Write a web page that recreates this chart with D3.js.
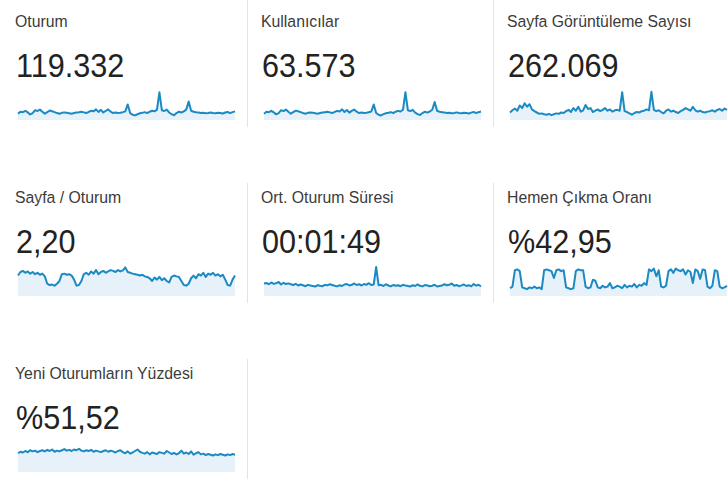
<!DOCTYPE html>
<html>
<head>
<meta charset="utf-8">
<script src="https://cdn.jsdelivr.net/npm/d3@7"></script>
<style>
  html, body { margin: 0; padding: 0; background: #fff; }
  svg { display: block; font-family: Arial, "Liberation Sans", sans-serif; }
</style>
</head>
<body>
<svg id="chart"></svg>
<script>
// metric names and totals
const metricTitles = ['Oturum', 'Kullanıcılar', 'Sayfa Görüntüleme Sayısı',
  'Sayfa / Oturum', 'Ort. Oturum Süresi', 'Hemen Çıkma Oranı',
  'Yeni Oturumların Yüzdesi'];
const metricTotals = ['119.332', '63.573', '262.069', '2,20', '00:01:49', '%42,95', '%51,52'];

// daily values (estimated from the sparklines)
const sessions = [1250, 1420, 1380, 1500, 1360, 1180, 1300, 1550, 1480, 1600,
  1420, 1250, 1380, 1520, 1460, 1380, 1300, 1240, 1320, 1360,
  1330, 1290, 1250, 1300, 1350, 1380, 1420, 1360, 1300, 1400,
  1500, 1450, 1620, 1400, 1580, 1350, 1500, 1620, 1420, 1300,
  1350, 1300, 1330, 1380, 1450, 2050, 1300, 1150, 1100, 1200,
  1280, 1320, 1380, 1300, 1420, 1500, 1450, 1600, 3100, 1550,
  1480, 1600, 1350, 1200, 1120, 1300, 1420, 1350, 1450, 1600,
  2300, 1500, 1420, 1380, 1350, 1300, 1320, 1280, 1300, 1350,
  1300, 1280, 1330, 1300, 1260, 1350, 1400, 1300, 1380, 1450];
const users = [660, 750, 730, 790, 720, 630, 690, 820, 780, 850,
  750, 660, 730, 800, 770, 730, 690, 660, 700, 720,
  700, 680, 660, 690, 710, 730, 750, 720, 690, 740,
  790, 760, 860, 740, 830, 710, 790, 850, 750, 690,
  710, 690, 700, 730, 760, 1080, 690, 610, 580, 640,
  680, 700, 730, 690, 750, 790, 760, 840, 1650, 820,
  780, 840, 710, 640, 600, 690, 750, 710, 760, 840,
  1200, 790, 750, 730, 710, 690, 700, 680, 690, 720,
  690, 680, 700, 690, 670, 710, 740, 690, 730, 760];
const pageviews = [2900, 3400, 3800, 3300, 4500, 3900, 5000, 4200, 4800, 3600,
  3200, 2900, 2600, 2700, 2500, 2400, 2600, 2300, 2500, 2700,
  2600, 2900, 2800, 3200, 3500, 3000, 3900, 3300, 4200, 3100,
  3400, 4600, 3700, 3900, 3000, 3300, 3600, 3200, 3500, 3900,
  3300, 3600, 3100, 3400, 3500, 3300, 7500, 3200, 3000, 2700,
  2400, 2800, 3000, 2900, 3200, 3300, 3600, 3400, 7600, 3500,
  3200, 3400, 3000, 2700, 3300, 3600, 3100, 3300, 3000, 2800,
  3200, 3500, 3900, 3600, 3300, 4200, 3400, 3100, 3300, 3000,
  2900, 3100, 3200, 3400, 3100, 3500, 3700, 3300, 3800, 3500];
const pagesPerSession = [2.25, 2.38, 2.42, 2.35, 2.40, 2.32, 2.38, 2.30, 2.35, 2.28,
  2.32, 2.22, 1.95, 1.90, 1.92, 1.88, 1.95, 2.05, 2.30, 2.32,
  2.28, 2.30, 2.25, 2.10, 1.88, 1.90, 2.05, 2.30, 2.35, 2.28,
  2.40, 2.32, 2.45, 2.30, 2.38, 2.42, 2.35, 2.40, 2.45, 2.42,
  2.38, 2.45, 2.40, 2.44, 2.55, 2.38, 2.35, 2.32, 2.30, 2.28,
  2.25, 2.28, 2.22, 2.20, 2.15, 2.05, 2.18, 2.10, 2.20, 2.08,
  2.15, 2.05, 2.00, 2.20, 2.25, 2.22, 2.20, 2.05, 1.90, 1.88,
  1.95, 2.15, 2.25, 2.15, 2.30, 2.25, 2.35, 2.20, 2.32, 2.28,
  2.35, 2.25, 2.30, 2.22, 2.28, 2.10, 1.90, 1.88, 2.10, 2.25];
const avgDuration = [125, 130, 118, 135, 122, 128, 140, 115, 132, 120,
  126, 118, 110, 122, 105, 115, 108, 98, 112, 104,
  100, 95, 108, 102, 98, 112, 106, 118, 110, 102,
  96, 108, 100, 115, 120, 105, 112, 125, 110, 118,
  105, 120, 112, 128, 110, 115, 290, 108, 112, 100,
  118, 105, 96, 110, 102, 108, 98, 112, 104, 100,
  95, 108, 100, 116, 102, 96, 110, 105, 98, 102,
  112, 95, 100, 104, 118, 108, 112, 125, 102, 110,
  98, 106, 115, 100, 108, 96, 120, 104, 112, 95];
const bounceRate = [34, 36, 55, 56, 54, 35, 34, 33, 35, 34,
  36, 34, 35, 33, 55, 56, 55, 54, 46, 55,
  56, 54, 55, 35, 34, 33, 34, 54, 56, 55,
  55, 36, 34, 35, 44, 43, 35, 34, 37, 35,
  36, 40, 34, 35, 37, 36, 34, 38, 35, 37,
  36, 39, 35, 38, 37, 40, 38, 56, 54, 57,
  48, 55, 36, 35, 37, 54, 56, 52, 57, 55,
  54, 56, 50, 55, 53, 40, 56, 54, 45, 56,
  55, 36, 34, 37, 55, 54, 36, 34, 35, 37];
const newSessionPct = [50, 54, 52, 56, 53, 58, 55, 57, 53, 56,
  58, 55, 59, 56, 60, 54, 57, 55, 58, 61,
  57, 59, 56, 60, 58, 62, 57, 55, 58, 56,
  59, 54, 57, 55, 53, 56, 58, 54, 57, 55,
  52, 56, 58, 53, 50, 55, 49, 52, 56, 60,
  54, 51, 49, 53, 47, 52, 50, 48, 53, 51,
  49, 56, 52, 48, 51, 47, 50, 57, 49, 52,
  48, 55, 46, 50, 53, 47, 49, 45, 48, 46,
  44, 47, 45, 48, 46, 44, 47, 45, 48, 46];

const metricSeries = [sessions, users, pageviews, pagesPerSession, avgDuration, bounceRate, newSessionPct];
const metricDomains = [[700, 3300], [370, 1750], [1200, 8000], [1.5, 2.6], [0, 300], [25, 60], [0, 80]];

const width = 728;
const height = 481;
const colX = [15, 261, 507];
const rowBase = [27, 203, 379];
const dividerTop = [0, 183, 359];
const sparkW = 217;
const lineColor = '#1b8ac3';
const fillColor = '#e6f1f9';

const svg = d3.select('#chart')
  .attr('width', width)
  .attr('height', height);

// cell separators
rowBase.forEach((b, r) => {
  const xs = r < 2 ? [247, 493] : [247];
  svg.selectAll(null)
    .data(xs)
    .join('line')
      .attr('x1', d => d + 0.5)
      .attr('x2', d => d + 0.5)
      .attr('y1', dividerTop[r])
      .attr('y2', b + 100)
      .attr('stroke', '#e3e3e3');
});

metricTitles.forEach((title, i) => {
  const col = i % 3;
  const row = Math.floor(i / 3);
  const x0 = colX[col];
  const base = rowBase[row];
  const g = svg.append('g');

  g.append('text')
    .attr('transform', `translate(${x0},${base}) scale(0.93,1)`)
    .attr('font-size', 17)
    .attr('fill', '#3b3b3b')
    .text(title);

  g.append('text')
    .attr('transform', `translate(${x0 + 1},${base + 50}) scale(0.9,1)`)
    .attr('font-size', 34)
    .attr('fill', '#222')
    .text(metricTotals[i]);

  const data = metricSeries[i];
  const xScale = d3.scaleLinear()
    .domain([0, data.length - 1])
    .range([x0 + 3, x0 + 3 + sparkW]);
  const yScale = d3.scaleLinear()
    .domain(metricDomains[i])
    .range([base + 93, base + 63]);

  const area = d3.area()
    .x((d, j) => xScale(j))
    .y0(yScale(metricDomains[i][0]))
    .y1(d => yScale(d));
  const line = d3.line()
    .x((d, j) => xScale(j))
    .y(d => yScale(d));

  g.append('path')
    .datum(data)
    .attr('fill', fillColor)
    .attr('d', area);
  g.append('path')
    .datum(data)
    .attr('fill', 'none')
    .attr('stroke', lineColor)
    .attr('stroke-width', 2)
    .attr('stroke-linejoin', 'round')
    .attr('d', line);
});
</script>
</body>
</html>
